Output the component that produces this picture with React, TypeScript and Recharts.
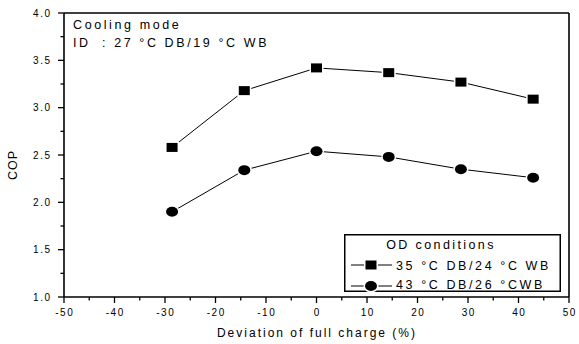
import React from "react";
import {
  ScatterChart,
  Scatter,
  XAxis,
  YAxis,
  ReferenceLine,
  Legend,
} from "recharts";

// deviation of full charge (%)
const deviation = [-28.6, -14.3, 0, 14.3, 28.6, 42.9];
const cop35 = [2.58, 3.18, 3.42, 3.37, 3.27, 3.09];
const cop43 = [1.9, 2.34, 2.54, 2.48, 2.35, 2.26];

const xTicks = [-50, -40, -30, -20, -10, 0, 10, 20, 30, 40, 50];
const xMinorTicks = [-45, -35, -25, -15, -5, 5, 15, 25, 35, 45];
const yTicks = [1, 1.5, 2, 2.5, 3, 3.5, 4];
const yMinorTicks = [1.25, 1.75, 2.25, 2.75, 3.25, 3.75];

const label35 = "35 °C DB/24 °C WB";
const label43 = "43 °C DB/26 °CWB";

const data35 = deviation.map((x, i) => ({ x, y: cop35[i] }));
const data43 = deviation.map((x, i) => ({ x, y: cop43[i] }));
const allX = [...xTicks, ...xMinorTicks].sort((a, b) => a - b);
const allY = [...yTicks, ...yMinorTicks].sort((a, b) => a - b);

const Square = (p: any) => (
  <rect x={p.cx - 5.5} y={p.cy - 4.5} width={11} height={9} fill="#000" stroke="#fff" strokeWidth={3} paintOrder="stroke" />
);

const Dot = (p: any) => (
  <ellipse cx={p.cx} cy={p.cy} rx={6} ry={5} fill="#000" stroke="#fff" strokeWidth={3} paintOrder="stroke" />
);

const txt = { fontSize: 12.5, fill: "#000", letterSpacing: 2.6 };

// ticks drawn by hand so minor ticks come out shorter and unlabelled
const XTick = ({ x, y, payload }: any) => {
  const major = xTicks.includes(payload.value);
  return (
    <g>
      <line x1={x} x2={x} y1={y} y2={y + (major ? 6 : 3.5)} stroke="#000" strokeWidth={1.3} />
      {major && (
        <text x={x + 0.75} y={y + 12} dy="0.71em" textAnchor="middle" fontSize={10} fill="#000" letterSpacing={1.5}>
          {payload.value}
        </text>
      )}
    </g>
  );
};

const YTick = ({ x, y, payload }: any) => {
  const major = yTicks.includes(payload.value);
  return (
    <g>
      <line x1={x - (major ? 6 : 3.5)} x2={x} y1={y} y2={y} stroke="#000" strokeWidth={1.3} />
      {major && (
        <text x={x - 12.5} y={y} dy="0.355em" textAnchor="end" fontSize={10} fill="#000" letterSpacing={1.5}>
          {payload.value.toFixed(1)}
        </text>
      )}
    </g>
  );
};

function LegendBox() {
  return (
    <svg width={217} height={58} style={{ display: "block" }}>
      <rect x={0.75} y={0.75} width={215.5} height={56.5} fill="#fff" stroke="#000" strokeWidth={1.5} />
      <text x={97} y={15} textAnchor="middle" {...txt} letterSpacing={2.4}>
        OD conditions
      </text>
      <line x1={7} x2={48} y1={31} y2={31} stroke="#000" strokeWidth={1} />
      <Square cx={27} cy={31} />
      <text x={52} y={36} {...txt}>{label35}</text>
      <line x1={7} x2={48} y1={52} y2={52} stroke="#000" strokeWidth={1} />
      <Dot cx={27} cy={52} />
      <text x={52} y={55} {...txt}>{label43}</text>
    </svg>
  );
}

export default function App() {
  return (
    <div style={{ position: "absolute", left: 0, top: 0, fontFamily: "'Liberation Sans', Arial, sans-serif" }}>
      <ScatterChart width={579} height={344} margin={{ top: 13, right: 10, left: 0, bottom: 0 }}>
        <XAxis type="number" dataKey="x" domain={[-50, 50]} ticks={allX} interval={0} height={47}
          tickSize={0} tickMargin={0} tickLine={false} axisLine={{ stroke: "#000", strokeWidth: 1.6 }}
          tick={<XTick />} />
        <YAxis type="number" dataKey="y" domain={[1, 4]} ticks={allY} interval={0} width={64}
          tickSize={0} tickMargin={0} tickLine={false} axisLine={{ stroke: "#000", strokeWidth: 1.6 }}
          tick={<YTick />} />
        <ReferenceLine y={4} stroke="#000" strokeWidth={1.4} />
        <ReferenceLine x={50} stroke="#000" strokeWidth={1.6} />
        <Scatter name={label35} data={data35} fill="#000" line={{ stroke: "#000", strokeWidth: 1 }}
          shape={Square} isAnimationActive={false} />
        <Scatter name={label43} data={data43} fill="#000" line={{ stroke: "#000", strokeWidth: 1 }}
          shape={Dot} isAnimationActive={false} />
        <Legend layout="vertical" align="center" verticalAlign="middle" content={() => <LegendBox />}
          wrapperStyle={{ left: 344, top: 234, width: 217, height: 58 }} />
        <text x={73} y={29} {...txt}>Cooling mode</text>
        <text x={73} y={47} {...txt}>ID</text>
        <text x={102} y={47} {...txt}>: 27 °C DB/19 °C WB</text>
        <text x={13} y={165} transform="rotate(-90 13 165)" textAnchor="middle" dominantBaseline="central" fontSize={12.5} fill="#000" letterSpacing={1}>
          COP
        </text>
        <text x={317} y={337} textAnchor="middle" fontSize={12} fill="#000" letterSpacing={2}>
          Deviation of full charge (%)
        </text>
      </ScatterChart>
    </div>
  );
}
